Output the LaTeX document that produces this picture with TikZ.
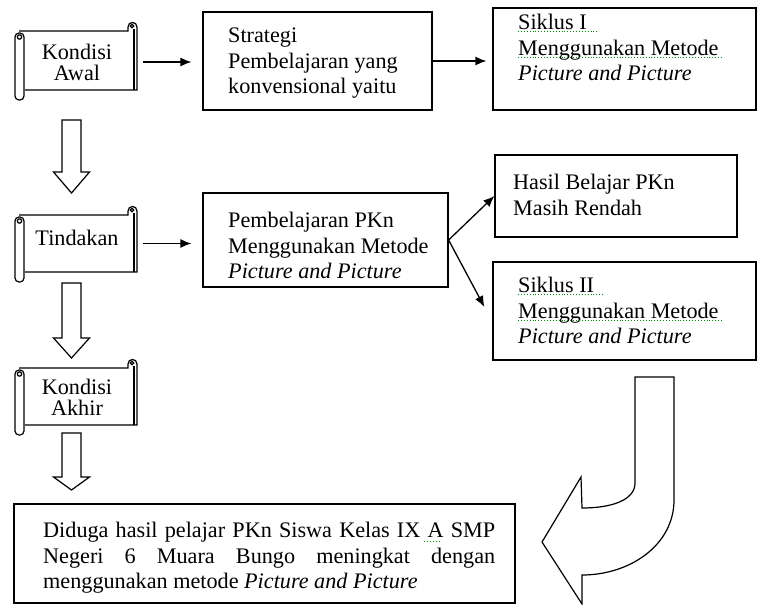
\documentclass[tikz,border=0pt]{standalone}
\usepackage{fontspec}
\setmainfont{Liberation Serif}
\usepackage{tikz}
\usetikzlibrary{arrows.meta}
\usetikzlibrary{calc}
\usetikzlibrary{positioning}

\tikzset{
  box/.style={draw, line width=1.2pt, inner sep=0pt},
  txt/.style={align=left, inner sep=0pt, anchor=north west, font=\fontsize{22.2}{25.5}\selectfont},
  scrltxt/.style={align=center, inner sep=0pt, font=\fontsize{22.2}{21}\selectfont},
  scrl/.style={line width=1.2pt},
  link/.style={line width=1.3pt, -{Latex[length=11pt,width=9pt]}},
  blk/.style={line width=1.2pt, fill=white},
  squig/.style={green!55!black, line width=0.9pt, dotted},
}

% scroll: left x, top y, right x, bottom y
\newcommand{\scrollbox}[4]{
  \draw[scrl] (#1+4,#2) -- (#3-9,#2) -- (#3-9,#2-4)
    .. controls (#3-9,#2-10) and (#3,#2-10) .. (#3,#2-4) -- (#3,#4) -- (#1+10,#4);
  \draw[scrl] (#3-3,#2-2) -- (#3-3,#4);
  \draw[scrl] (#3-5,#2-5) circle (1.8pt);
  \draw[scrl,fill=white,rounded corners=4pt] (#1,#2+2) rectangle (#1+9,#4+10);
  \draw[scrl] (#1+4.5,#2+6) circle (2.2pt);
}

% block arrow: centre x, top y, head y, tip y
\newcommand{\blockarrow}[4]{
  \draw[blk] (#1-9.5,#2) -- (#1+9.5,#2) -- (#1+9.5,#3) -- (#1+18,#3) -- (#1,#4)
    -- (#1-18,#3) -- (#1-9.5,#3) -- cycle;
}

\begin{document}
\begin{tikzpicture}[x=1pt,y=-1pt]
\useasboundingbox (0,0) rectangle (758,605);

%Kondisi Awal
\scrollbox{15}{31}{137}{90}
\node[scrltxt, minimum width=120pt, minimum height=59pt] (awal) at (77,62) {Kondisi\\Awal};

%Strategi
\node[box, minimum width=229pt, minimum height=98pt] (strat) at (317.5,61) {};
\node[txt] (strattxt) at (228,28) {Strategi\\Pembelajaran yang\\konvensional yaitu};

%Siklus I
\node[box, minimum width=263pt, minimum height=102pt] (sik1) at (624.5,59) {};
\node[txt] (sik1txt) at (518,14) {Siklus I\\Menggunakan Metode\\\textit{Picture and Picture}};
\draw[squig] (518,31) -- (598,31);
\draw[squig] (518,57) -- (722,57);

\draw[link] ([xshift=6pt]awal.east) -- ([xshift=-11pt]strat.west |- awal.east);
\draw[link] (strat.east) -- ([xshift=-6pt]sik1.west |- strat.east);

\blockarrow{71.5}{120}{172}{193}

%Tindakan
\scrollbox{15}{215}{137}{272}
\node[scrltxt, minimum width=120pt, minimum height=57pt] (tind) at (77,243.5) {};
\node[scrltxt] (tindtxt) at (77,238) {Tindakan};

%Pembelajaran PKn
\node[box, minimum width=245pt, minimum height=94pt] (pkn) at (325.5,240) {};
\node[txt] (pkntxt) at (228,212) {Pembelajaran PKn\\Menggunakan Metode\\\textit{Picture and Picture}};

\draw[link] ([xshift=6pt]tind.east) -- ([xshift=-11pt]pkn.west |- tind.east);

%Hasil
\node[box, minimum width=242pt, minimum height=82pt] (hasil) at (616,196) {};
\node[txt] (hasiltxt) at (513,174) {Hasil Belajar PKn\\Masih Rendah};

%Siklus II
\node[box, minimum width=263pt, minimum height=98pt] (sik2) at (624.5,311) {};
\node[txt] (sik2txt) at (518,277) {Siklus II\\Menggunakan Metode\\\textit{Picture and Picture}};
\draw[squig] (518,294) -- (604,294);
\draw[squig] (518,320) -- (722,320);

\draw[link] (pkn.east) -- (hasil.west);
\draw[link] (pkn.east) -- ([xshift=-8pt,yshift=4pt]sik2.west);

\blockarrow{71.5}{283}{338}{358}

%Kondisi Akhir
\scrollbox{15}{368}{137}{425}
\node[scrltxt, minimum width=120pt, minimum height=57pt] (akhir) at (77,397) {Kondisi\\Akhir};

\blockarrow{71.5}{433}{477}{490}

%Hasil akhir
\node[box, minimum width=501pt, minimum height=99pt] (duga) at (264.5,553.5) {};
\node[txt, text width=452pt, align=justify] (dugatxt) at (43,522) {Diduga hasil pelajar PKn Siswa Kelas IX A SMP\linebreak Negeri 6 Muara Bungo meningkat dengan\linebreak menggunakan metode \textit{Picture and Picture}};
\draw[squig] (424,541) -- (440,541);

%bent arrow
\draw[blk] (635,377) -- (674,377) -- (674,500) .. controls (674,545) and (630,575) .. (582,575)
  -- (582,604) -- (542,542) -- (581,477) -- (582,508) .. controls (612,508) and (635,500) .. (635,483) -- cycle;

\end{tikzpicture}
\end{document}
